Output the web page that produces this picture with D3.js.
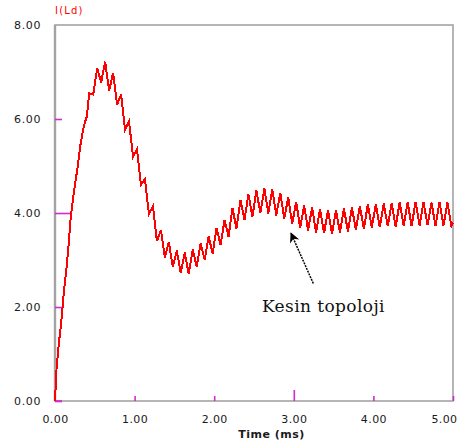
<!DOCTYPE html>
<html>
<head>
<meta charset="utf-8">
<script src="https://cdn.jsdelivr.net/npm/d3@7"></script>
<style>
  html, body { margin: 0; padding: 0; background: #fff; }
  svg { display: block; }
</style>
</head>
<body>
<svg id="chart" width="458" height="448"></svg>
<script>
// Inductor current I(Ld) versus time, sampled at ripple peaks and troughs
const timeMs = [
  0, 0.02, 0.05, 0.08, 0.11, 0.14, 0.17, 0.20, 0.23, 0.26, 0.29, 0.32, 0.35, 0.38, 0.40,
  0.43, 0.48, 0.53, 0.58, 0.63, 0.68, 0.73, 0.78, 0.83, 0.88, 0.93, 0.98,
  1.03, 1.08, 1.13, 1.18, 1.23, 1.28, 1.33, 1.38, 1.43, 1.48, 1.53, 1.58, 1.63, 1.68, 1.73, 1.78, 1.83, 1.88, 1.93, 1.98,
  2.03, 2.08, 2.13, 2.18, 2.23, 2.28, 2.33, 2.38, 2.43, 2.48, 2.53, 2.58, 2.63, 2.68, 2.73, 2.78, 2.83, 2.88, 2.93, 2.98,
  3.03, 3.08, 3.13, 3.18, 3.23, 3.28, 3.33, 3.38, 3.43, 3.48, 3.53, 3.58, 3.63, 3.68, 3.73, 3.78, 3.83, 3.88, 3.93, 3.98,
  4.03, 4.08, 4.13, 4.18, 4.23, 4.28, 4.33, 4.38, 4.43, 4.48, 4.53, 4.58, 4.63, 4.68, 4.73, 4.78, 4.83, 4.88, 4.93, 4.98,
  5.00
];
const currentA = [
  0, 0.70, 1.25, 1.70, 2.30, 2.75, 3.30, 3.95, 4.35, 4.70, 5.05, 5.45, 5.75, 5.95, 6.05,
  6.55, 6.52, 7.08, 6.78, 7.22, 6.60, 6.98, 6.30, 6.52, 5.78, 5.95, 5.20,
  5.36, 4.60, 4.72, 3.98, 4.15, 3.40, 3.64, 3.05, 3.38, 2.85, 3.20, 2.72, 3.16, 2.70, 3.22, 2.86, 3.36, 3.00, 3.50, 3.14,
  3.68, 3.32, 3.85, 3.50, 4.10, 3.67, 4.28, 3.85, 4.40, 3.92, 4.48, 4.00, 4.52, 3.99, 4.50, 3.95, 4.43, 3.88, 4.33, 3.77,
  4.24, 3.68, 4.16, 3.63, 4.12, 3.58, 4.08, 3.57, 4.07, 3.56, 4.06, 3.58, 4.10, 3.60, 4.12, 3.64, 4.15, 3.66, 4.18, 3.69,
  4.19, 3.70, 4.20, 3.72, 4.21, 3.71, 4.22, 3.73, 4.23, 3.72, 4.24, 3.73, 4.23, 3.74, 4.22, 3.72, 4.23, 3.73, 4.22, 3.72,
  3.80
];
const xTickValues = [0, 1, 2, 3, 4, 5];
const yTickValues = [0, 2, 4, 6, 8];
const seriesLabel = "I(Ld)";
const xTitle = "Time (ms)";
const noteText = "Kesin topoloji";

const svg = d3.select("#chart");
const x = d3.scaleLinear().domain([0, 5]).range([55, 453]);
const y = d3.scaleLinear().domain([0, 8]).range([401, 25]);
const fmt = d3.format(".2f");
const tickColor = "#d22ad2";
const frameColor = "#a3a3a3";
const labelFont = "'DejaVu Sans', Verdana, sans-serif";

// plot frame
svg.append("rect")
  .attr("x", x(0)).attr("y", y(8))
  .attr("width", x(5) - x(0)).attr("height", y(0) - y(8))
  .attr("fill", "none").attr("stroke", frameColor).attr("stroke-width", 1.6);
svg.append("line")
  .attr("x1", x(0)).attr("x2", x(0)).attr("y1", y(8)).attr("y2", y(0))
  .attr("stroke", frameColor).attr("stroke-width", 2.4);

// x axis: inward ticks, longer at the 3 ms mark
const gx = svg.append("g").attr("transform", `translate(0,${y(0)})`)
  .call(d3.axisBottom(x).tickValues(xTickValues).tickFormat(fmt)
    .tickSizeInner(-5).tickSizeOuter(0).tickPadding(14.5));
gx.select(".domain").remove();
gx.selectAll(".tick line").attr("stroke", tickColor).attr("stroke-width", 1.6)
  .filter(d => d === 3).attr("y2", -11);
gx.selectAll(".tick line").filter(d => d === 0).remove();
gx.selectAll(".tick text")
  .attr("fill", "#1a1a1a").style("font-family", labelFont)
  .style("font-size", "11px").style("letter-spacing", "0.4px");
// last label is pulled inside the window edge
gx.selectAll(".tick text").filter(d => d === 5)
  .attr("text-anchor", "end").attr("x", 4);

// y axis: inward ticks, longer at the 4 A mark
const gy = svg.append("g").attr("transform", `translate(${x(0)},0)`)
  .call(d3.axisLeft(y).tickValues(yTickValues).tickFormat(fmt)
    .tickSizeInner(-7).tickSizeOuter(0).tickPadding(14));
gy.select(".domain").remove();
gy.selectAll(".tick line").attr("stroke", tickColor).attr("stroke-width", 1.6)
  .filter(d => d === 4).attr("x2", 15);
gy.selectAll(".tick line").filter(d => d === 8).remove();
gy.selectAll(".tick text")
  .attr("fill", "#1a1a1a").style("font-family", labelFont)
  .style("font-size", "11px").style("letter-spacing", "0.6px");

// small magenta mark at the origin along the time axis
svg.append("line")
  .attr("x1", x(0)).attr("x2", x(0) + 7).attr("y1", y(0)).attr("y2", y(0))
  .attr("stroke", tickColor).attr("stroke-width", 1.6);

// current trace
const line = d3.line()
  .x((d, i) => x(timeMs[i]))
  .y(d => y(d));
svg.append("path")
  .datum(currentA)
  .attr("d", line)
  .attr("fill", "none")
  .attr("stroke", "#ff0000")
  .attr("stroke-width", 2)
  .attr("stroke-linejoin", "miter")
  .attr("shape-rendering", "crispEdges");

// series label above the frame
svg.append("text")
  .attr("x", x(0)).attr("y", 13.5)
  .attr("fill", "#ff0000")
  .style("font-family", labelFont).style("font-size", "10px")
  .style("letter-spacing", "1.2px")
  .text(seriesLabel);

// time axis title
svg.append("text")
  .attr("x", x(2.72)).attr("y", 437.5)
  .attr("text-anchor", "middle")
  .attr("fill", "#1a1a1a")
  .style("font-family", labelFont).style("font-size", "11px")
  .style("font-weight", "bold").style("letter-spacing", "0.5px")
  .text(xTitle);

// annotation with arrow
const defs = svg.append("defs");
defs.append("marker")
  .attr("id", "arrowHead")
  .attr("viewBox", "0 0 10 10")
  .attr("refX", 9).attr("refY", 5)
  .attr("markerWidth", 13).attr("markerHeight", 10)
  .attr("markerUnits", "userSpaceOnUse")
  .attr("orient", "auto")
  .append("path").attr("d", "M0,0 L10,5 L0,10 L3,5 Z").attr("fill", "#000");

svg.append("line")
  .attr("x1", x(3.245)).attr("y1", y(2.5))
  .attr("x2", x(2.965)).attr("y2", y(3.57))
  .attr("stroke", "#000").attr("stroke-width", 1.5)
  .attr("stroke-dasharray", "2,1")
  .attr("marker-end", "url(#arrowHead)");

svg.append("text")
  .attr("x", x(2.6)).attr("y", y(1.9))
  .attr("fill", "#111")
  .style("font-family", "'DejaVu Serif', 'Liberation Serif', serif")
  .style("font-size", "17px").style("letter-spacing", "0.4px")
  .text(noteText);
</script>
</body>
</html>
